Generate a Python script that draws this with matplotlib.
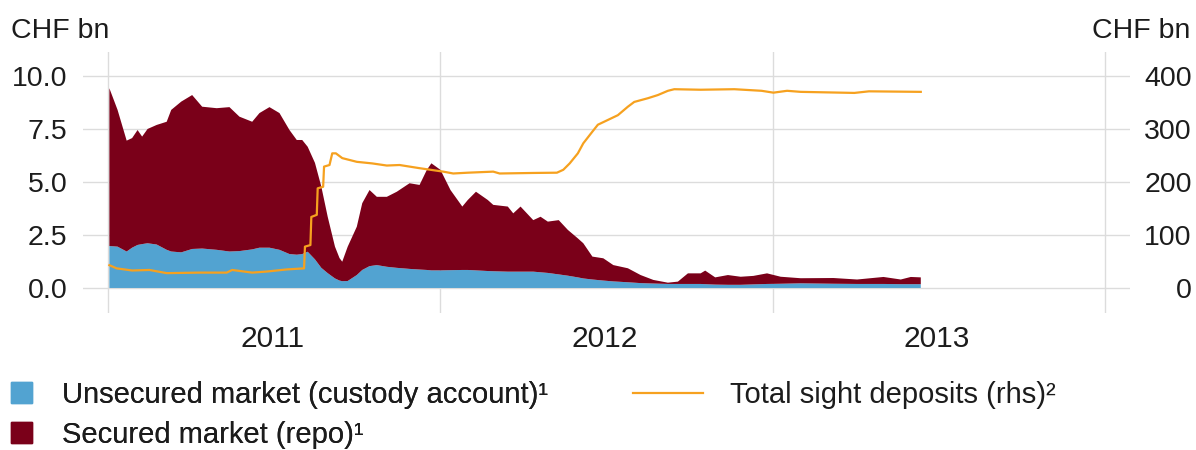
import matplotlib
matplotlib.use("Agg")
import matplotlib.pyplot as plt
import matplotlib.dates as mdates
from matplotlib.patches import Patch
from matplotlib.lines import Line2D
import pandas as pd

plt.rcParams['font.family'] = ['Liberation Sans', 'DejaVu Sans']

# money market turnover, CHF bn
area_dates = pd.to_datetime([
    '2011-01-03', '2011-01-12', '2011-01-22', '2011-01-28', '2011-02-03', '2011-02-08',
    '2011-02-14', '2011-02-24', '2011-03-07', '2011-03-12', '2011-03-23', '2011-04-04',
    '2011-04-15', '2011-05-01', '2011-05-15', '2011-05-26', '2011-06-09', '2011-06-17',
    '2011-06-28', '2011-07-09', '2011-07-20', '2011-07-28', '2011-08-03', '2011-08-09',
    '2011-08-17', '2011-08-24', '2011-08-31', '2011-09-08', '2011-09-13', '2011-09-16',
    '2011-09-22', '2011-10-02', '2011-10-08', '2011-10-16', '2011-10-24', '2011-11-04',
    '2011-11-15', '2011-11-29', '2011-12-10', '2011-12-18', '2011-12-23', '2012-01-02',
    '2012-01-13', '2012-01-26', '2012-02-01', '2012-02-10', '2012-02-23', '2012-02-29',
    '2012-03-16', '2012-03-22', '2012-03-30', '2012-04-13', '2012-04-21', '2012-04-29',
    '2012-05-11', '2012-05-21', '2012-06-01', '2012-06-07', '2012-06-17', '2012-06-29',
    '2012-07-10', '2012-07-26', '2012-08-09', '2012-08-23', '2012-09-08', '2012-09-19',
    '2012-09-30', '2012-10-14', '2012-10-19', '2012-10-30', '2012-11-13', '2012-11-27',
    '2012-12-11', '2012-12-26', '2013-01-10', '2013-02-01', '2013-03-09', '2013-04-04',
    '2013-05-03', '2013-05-22', '2013-06-02', '2013-06-13',
])
unsecured = [
    1.98, 1.95, 1.72, 1.90, 2.03, 2.07, 2.11, 2.05, 1.80, 1.72, 1.68, 1.84,
    1.86, 1.80, 1.72, 1.74, 1.82, 1.90, 1.90, 1.80, 1.60, 1.57, 1.60, 1.71,
    1.35, 0.95, 0.70, 0.45, 0.35, 0.32, 0.33, 0.61, 0.85, 1.03, 1.08, 1.00,
    0.95, 0.90, 0.87, 0.85, 0.83, 0.83, 0.84, 0.85, 0.85, 0.83, 0.80, 0.79,
    0.77, 0.77, 0.77, 0.77, 0.74, 0.71, 0.64, 0.58, 0.50, 0.45, 0.40, 0.35,
    0.31, 0.27, 0.23, 0.21, 0.19, 0.19, 0.19, 0.19, 0.18, 0.16, 0.15, 0.15,
    0.17, 0.19, 0.20, 0.22, 0.20, 0.19, 0.19, 0.18, 0.18, 0.18,
]
secured = [
    7.44, 6.45, 5.23, 5.17, 5.42, 5.07, 5.39, 5.64, 6.04, 6.68, 7.11, 7.26,
    6.69, 6.68, 6.81, 6.34, 6.02, 6.35, 6.63, 6.45, 5.85, 5.41, 5.38, 4.95,
    4.55, 3.83, 2.66, 1.50, 1.06, 0.92, 1.62, 2.28, 3.15, 3.59, 3.22, 3.30,
    3.59, 4.04, 3.99, 4.72, 5.05, 4.74, 3.78, 2.99, 3.30, 3.71, 3.35, 3.13,
    3.07, 2.75, 3.07, 2.43, 2.62, 2.42, 2.56, 2.16, 1.84, 1.66, 1.08, 1.05,
    0.77, 0.66, 0.38, 0.17, 0.06, 0.11, 0.50, 0.50, 0.64, 0.34, 0.46, 0.38,
    0.40, 0.50, 0.33, 0.24, 0.27, 0.21, 0.33, 0.22, 0.34, 0.32,
]

# total sight deposits, CHF bn (rhs)
sight_dates = pd.to_datetime([
    '2011-01-03', '2011-01-11', '2011-01-28', '2011-02-16', '2011-03-07', '2011-04-12',
    '2011-05-12', '2011-05-18', '2011-06-09', '2011-06-25', '2011-07-17', '2011-08-05',
    '2011-08-06', '2011-08-12', '2011-08-13', '2011-08-19', '2011-08-20', '2011-08-26',
    '2011-08-27', '2011-09-02', '2011-09-05', '2011-09-09', '2011-09-16', '2011-10-02',
    '2011-10-19', '2011-11-04', '2011-11-18', '2011-12-10', '2012-01-05', '2012-01-16',
    '2012-02-01', '2012-02-29', '2012-03-07', '2012-04-13', '2012-05-09', '2012-05-16',
    '2012-05-23', '2012-06-01', '2012-06-07', '2012-06-17', '2012-06-23', '2012-07-04',
    '2012-07-15', '2012-07-26', '2012-08-02', '2012-08-17', '2012-08-28', '2012-09-08',
    '2012-09-15', '2012-10-14', '2012-11-20', '2012-12-20', '2013-01-02', '2013-01-17',
    '2013-02-01', '2013-04-01', '2013-04-17', '2013-06-13',
])
sight_deposits = [
    43, 37, 33, 34, 28, 29, 29, 34, 29, 31, 35, 37,
    78, 81, 134, 138, 188, 191, 229, 232, 254, 254, 245, 238,
    235, 231, 232, 226, 219.5, 216, 217.5, 219.5, 216, 217, 217.5, 223,
    235, 254, 273, 295, 308, 317, 326, 342, 351, 358, 364, 372,
    375, 374, 375, 372, 368.5, 372, 370, 368, 371, 370,
]

left_ticks = [0, 2.5, 5, 7.5, 10]
right_ticks = [0, 100, 200, 300, 400]

blue = '#52a3d1'
red = '#7a0019'
orange = '#f6a11f'
txt = '#1c1c1c'
grid = '#dcdcdc'
fs = 20.5

fig = plt.figure(figsize=(11.96, 4.5), dpi=100)
ax = fig.add_axes([83 / 1196, 1 - 313 / 450, (1130 - 83) / 1196, (313 - 52) / 450])

ax.stackplot(area_dates, unsecured, secured, colors=[blue, red], linewidth=0)
ax.set_xlim(pd.Timestamp('2010-12-05'), pd.Timestamp('2014-01-29'))
ax.set_ylim(-1.18, 11.13)
ax.set_yticks(left_ticks)
ax.set_yticklabels(['0.0', '2.5', '5.0', '7.5', '10.0'])

ax.xaxis.set_major_locator(mdates.YearLocator())
ax.xaxis.set_major_formatter(plt.NullFormatter())
ax.xaxis.set_minor_locator(mdates.MonthLocator(bymonth=7))
ax.xaxis.set_minor_formatter(mdates.DateFormatter('%Y'))
ax.grid(True, which='major', color=grid, linewidth=1)
ax.set_axisbelow(True)
ax.tick_params(which='both', length=0, labelsize=fs, colors=txt)
ax.tick_params(axis='y', pad=11)
ax.tick_params(axis='x', which='minor', pad=8.5, labelsize=21.5)
for s in ax.spines.values():
    s.set_visible(False)

ax2 = ax.twinx()
ax2.plot(sight_dates, sight_deposits, color=orange, linewidth=1.6)
ax2.set_ylim(-47.2, 445.2)
ax2.set_yticks(right_ticks)
ax2.tick_params(length=0, labelsize=fs, colors=txt, pad=44.5)
for lab in ax2.get_yticklabels():
    lab.set_ha('right')
for s in ax2.spines.values():
    s.set_visible(False)

fig.text(11 / 1196, 1 - 38 / 450, 'CHF bn', fontsize=fs, color=txt, ha='left', va='baseline')
fig.text(1190 / 1196, 1 - 38 / 450, 'CHF bn', fontsize=fs, color=txt, ha='right', va='baseline')

lfs = 21
leg1 = fig.legend(handles=[Patch(color=blue), Patch(color=red)],
                  labels=['Unsecured market (custody account)¹', 'Secured market (repo)¹'],
                  loc='upper left', bbox_to_anchor=(11 / 1196, 1 - 381 / 450),
                  frameon=False, borderpad=0, borderaxespad=0, fontsize=lfs,
                  handlelength=0.72, handleheight=0.72, handletextpad=1.03,
                  labelspacing=0.41, labelcolor=txt)
fig.legend(handles=[Line2D([], [], color=orange, linewidth=1.6)],
           labels=['Total sight deposits (rhs)²'],
           loc='upper left', bbox_to_anchor=(633 / 1196, 1 - 381 / 450),
           frameon=False, borderpad=0, borderaxespad=0, fontsize=lfs,
           handlelength=2.4, handletextpad=0.92, labelcolor=txt)
fig.add_artist(leg1)

fig.savefig('out.png', dpi=100)
